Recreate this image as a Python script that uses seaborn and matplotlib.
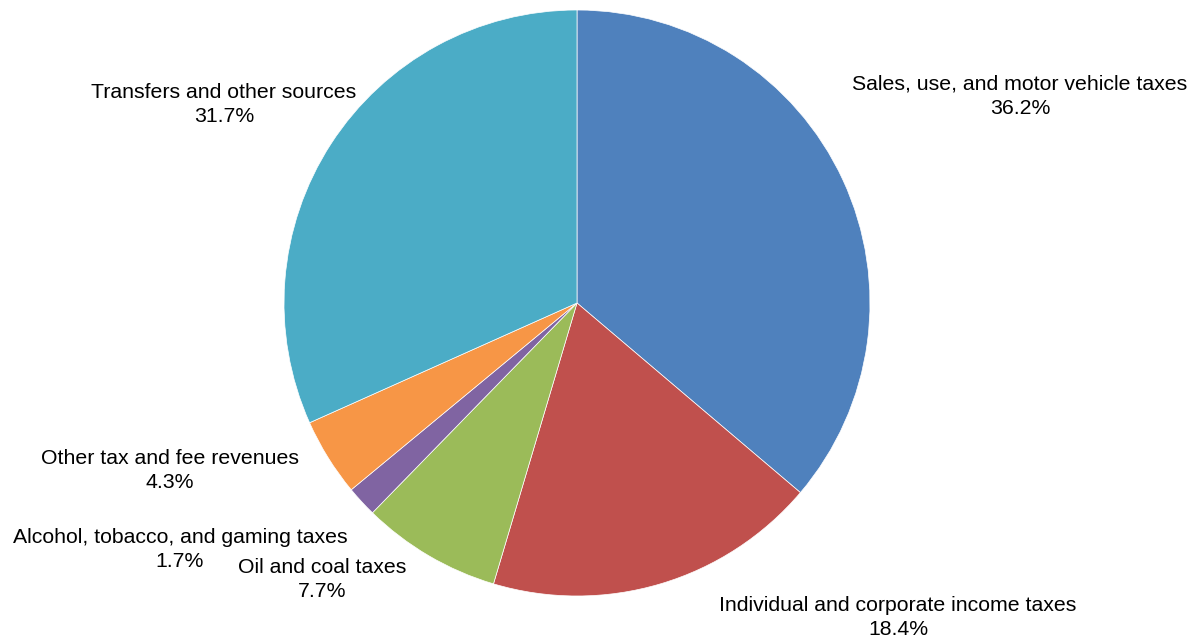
import matplotlib
matplotlib.use("Agg")
import matplotlib.pyplot as plt
import seaborn as sns

# Revenue sources, clockwise from 12 o'clock
categories = [
    "Sales, use, and motor vehicle taxes",
    "Individual and corporate income taxes",
    "Oil and coal taxes",
    "Alcohol, tobacco, and gaming taxes",
    "Other tax and fee revenues",
    "Transfers and other sources",
]
shares = [36.2, 18.4, 7.7, 1.7, 4.3, 31.7]
colors = ["#4F81BD", "#C0504D", "#9BBB59", "#8064A2", "#F79646", "#4BACC6"]

# label centres in pie-radius units (pie centre = 0,0)
label_pos = [
    (1.512, 0.706),
    (1.096, -1.072),
    (-0.870, -0.945),
    (-1.355, -0.840),
    (-1.389, -0.570),
    (-1.205, 0.679),
]

sns.set_theme(style="white")
plt.rcParams["font.family"] = ["Liberation Sans", "DejaVu Sans"]

W, H = 1199, 636
cx, cy, r = 577, 303, 293
half_gap = 12.0 / r  # half the distance between the two label lines

fig = plt.figure(figsize=(W / 100, H / 100), dpi=100)
ax = fig.add_axes([0, 0, 1, 1])

ax.pie(
    shares,
    colors=colors,
    startangle=90,
    counterclock=False,
    radius=1,
    wedgeprops={"edgecolor": "white", "linewidth": 0.5},
)

# two separate lines per label: name above, percentage below
for name, val, (x, y) in zip(categories, shares, label_pos):
    ax.text(x, y + half_gap, name, ha="center", va="center",
            fontsize=15.3, color="black")
    ax.text(x, y - half_gap, "{:.1f}%".format(val), ha="center", va="center",
            fontsize=15.3, color="black")

ax.set_xlim(-cx / r, (W - cx) / r)
ax.set_ylim(-(H - cy) / r, cy / r)
ax.set_aspect("auto")
ax.axis("off")

fig.savefig("out.png", dpi=100)
plt.close(fig)
